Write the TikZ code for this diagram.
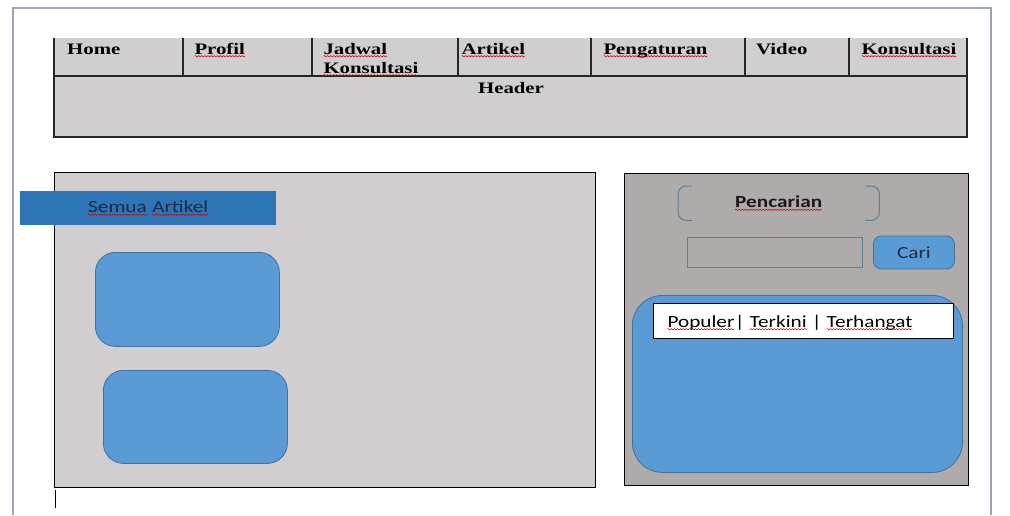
\documentclass[tikz,border=0pt]{standalone}
\usepackage{fontspec}
\setmainfont{Liberation Serif}
\newfontfamily\calibri{Carlito}
\usepackage{graphicx}
\usetikzlibrary{positioning,decorations.pathmorphing}

\definecolor{abuMuda}{HTML}{D0CECE}
\definecolor{abuTua}{HTML}{AFABAB}
\definecolor{biru}{HTML}{5B9BD5}
\definecolor{biruTua}{HTML}{2E75B6}
\definecolor{garisBiru}{HTML}{41719C}
\definecolor{garisIsian}{HTML}{5F7D95}
\definecolor{tinta}{HTML}{1B2A4A}
\definecolor{tepi}{HTML}{9AA5B1}

% teks melebar (gambar asli direntang mendatar)
\newcommand{\lebar}[2][1.3]{\scalebox{#1}[1]{#2}}
% garis bergelombang merah di bawah kata
\newcommand{\salah}[1]{\tikz[baseline=(s.base)]{\node[inner sep=0pt,outer sep=0pt,draw=none,fill=none,minimum size=0pt,anchor=base] (s) {#1};
  \draw[red!80!black,line width=0.5pt,decorate,decoration={snake,amplitude=0.6pt,segment length=2.4pt}] ([yshift=-2.2pt]s.base west) -- ([yshift=-2.2pt]s.base east);}}

\begin{document}
\begin{tikzpicture}[x=1pt,y=-1pt,
    menu/.style={font=\fontsize{16}{19}\selectfont\bfseries, anchor=base west, inner sep=0pt},
    sans/.style={font=\fontsize{17}{20}\selectfont\calibri},
    garis/.style={draw=black!85, line width=1.1pt},
    kartu/.style={draw=garisBiru, fill=biru, line width=0.8pt, anchor=north west, inner sep=0pt},
    panel/.style={draw=black, line width=1pt, anchor=north west, inner sep=0pt},
    kurung/.style={draw=garisIsian, line width=1pt, rounded corners=8pt}]
\useasboundingbox (0,0) rectangle (1010,515);
% tepi halaman
\draw[tepi, line width=1.5pt] (13,515) -- (13,8) -- (991,8) -- (991,515);

% header dan menu
\fill[abuMuda] (54,38) rectangle (967,137);
\draw[garis] (54,38) -- (54,137) -- (967,137) -- (967,38);
\draw[garis] (54,76) -- (967,76);
\foreach \x in {183,312,458,591,745,849}
    \draw[garis] (\x,38) -- (\x,76);
\foreach \x/\teks/\nama in {67/Home/home, 194/\salah{Profil}/profil, 323/\salah{Jadwal}/jadwal,
    461/\salah{Artikel}/artikel, 603/\salah{Pengaturan}/pengaturan, 756/Video/video, 861/\salah{Konsultasi}/konsultasi}
    \node[menu] (\nama) at (\x,54) {\lebar{\teks}};
\node[menu] (jadwalb) at (323,73) {\lebar{\salah{Konsultasi}}};
\node[menu, anchor=base] (header) at (511,93) {\lebar{Header}};

% panel kiri
\node[panel, fill=abuMuda, minimum width=541pt, minimum height=315pt] (kiri) at (54,172) {};
\node[sans, fill=biruTua, text=tinta, anchor=north west, minimum width=256pt, minimum height=34pt, inner sep=0pt] (semua) at (20,191)
    {\lebar[1.25]{\salah{Semua} \salah{Artikel}}};
\node[kartu, rounded corners=20pt, minimum width=184pt, minimum height=94pt] (kartua) at (95,252) {};
\node[kartu, rounded corners=20pt, minimum width=184pt, minimum height=93pt] (kartub) at (103,370) {};
\draw[line width=1pt] (55,490) -- (55,508);

% panel kanan
\node[panel, fill=abuTua, minimum width=344pt, minimum height=312pt] (kanan) at (624,173) {};
\node[sans, anchor=north west, minimum width=201pt, minimum height=34pt, inner sep=0pt, text=black!90] (judul) at (678,186)
    {\bfseries\lebar[1.25]{\salah{Pencarian}}};
\draw[kurung] ([xshift=14pt]judul.north west) -- (judul.north west) -- (judul.south west) -- ([xshift=14pt]judul.south west);
\draw[kurung] ([xshift=-14pt]judul.north east) -- (judul.north east) -- (judul.south east) -- ([xshift=-14pt]judul.south east);
\node[draw=garisIsian, line width=1pt, anchor=north west, minimum width=175pt, minimum height=30pt, inner sep=0pt] (isian) at (687,237) {};
\node[sans, draw=garisBiru, fill=biru, text=tinta, line width=0.8pt, rounded corners=8pt, minimum width=81pt, minimum height=33pt,
    inner sep=0pt, right=10pt of isian] (cari) {\lebar[1.25]{Cari}};
\node[kartu, rounded corners=30pt, minimum width=330pt, minimum height=177pt] (daftar) at (632,295) {};
\node[draw=black, fill=white, line width=1pt, anchor=north west, minimum width=300pt, minimum height=35pt, inner sep=0pt] (tab) at (653,303) {};
\node[sans, anchor=base west, inner sep=0pt] (tabteks) at (667,327)
    {\lebar[1.25]{\salah{Populer}| \salah{Terkini} | \salah{Terhangat}}};
\end{tikzpicture}
\end{document}
